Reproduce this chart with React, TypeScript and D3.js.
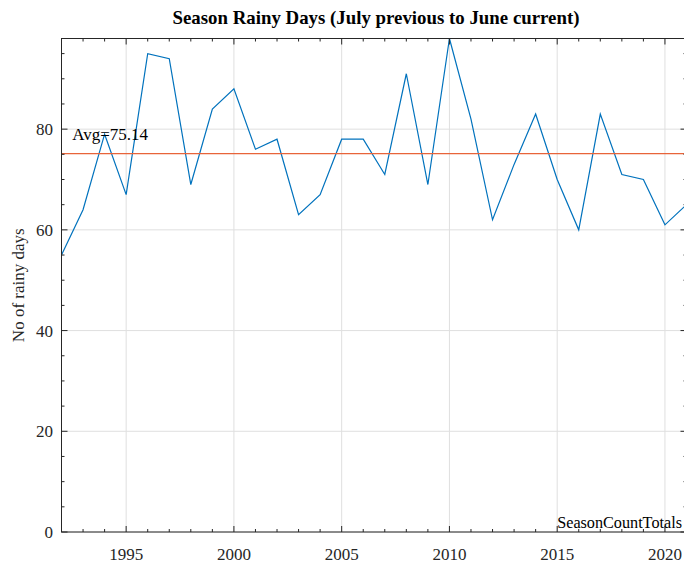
import React from "react";
import * as d3 from "d3";

const years = [1992,1993,1994,1995,1996,1997,1998,1999,2000,2001,2002,2003,2004,2005,2006,2007,2008,2009,2010,2011,2012,2013,2014,2015,2016,2017,2018,2019,2020,2021];
const rainyDays = [55,64,79,67,95,94,69,84,88,76,78,63,67,78,78,71,91,69,98,82,62,73,83,70,60,83,71,70,61,65];
const xTicks = [1995,2000,2005,2010,2015,2020];
const yTicks = [0,20,40,60,80];
const avgValue = 75.14;

const W = 684, H = 565;
const m = { left: 61.5, right: 686.5, top: 38.5, bottom: 532 };
const font = "'Liberation Serif', 'Times New Roman', serif";

export default function App() {
  const x = d3.scaleLinear().domain([1992, 2021]).range([m.left, m.right]);
  const y = d3.scaleLinear().domain([0, 98]).range([m.bottom, m.top]);
  const line = d3.line<number>().x((_, i) => x(years[i])).y(d => y(d));
  const minorX = d3.range(1992, 2022, 1).filter(v => !xTicks.includes(v));
  const minorY = d3.range(0, 99, 5).filter(v => !yTicks.includes(v));
  const ax = "#262626";
  return (
    <svg width={W} height={H} style={{ position: "absolute", left: 0, top: 0, background: "#fff" }}>
      <text x={376} y={24} textAnchor="middle" fontFamily={font} fontWeight="bold" fontSize={19} fill="#000"
        textLength={407} lengthAdjust="spacingAndGlyphs">
        Season Rainy Days (July previous to June current)
      </text>
      {/* grid */}
      {xTicks.map(t => (
        <line key={"gx" + t} x1={x(t)} x2={x(t)} y1={m.top} y2={m.bottom} stroke="#dfdfdf" strokeWidth={1} />
      ))}
      {yTicks.map(t => (
        <line key={"gy" + t} x1={m.left} x2={m.right} y1={y(t)} y2={y(t)} stroke="#dfdfdf" strokeWidth={1} />
      ))}
      {/* data */}
      <path d={line(rainyDays) || ""} fill="none" stroke="#0072BD" strokeWidth={1.2} />
      <line x1={m.left} x2={m.right} y1={y(avgValue)} y2={y(avgValue)} stroke="#E8643A" strokeWidth={1.4} />
      <text x={x(1992.5)} y={y(77.9)} fontFamily={font} fontSize={17} fill="#000">{`Avg=${avgValue.toFixed(2)}`}</text>
      <text x={x(2015)} y={y(0.85)} fontFamily={font} fontSize={16.2} fill="#000">SeasonCountTotals</text>
      {/* box */}
      <rect x={m.left} y={m.top} width={m.right - m.left} height={m.bottom - m.top} fill="none" stroke={ax} strokeWidth={1} />
      {/* ticks */}
      {xTicks.map(t => (
        <g key={"tx" + t}>
          <line x1={x(t)} x2={x(t)} y1={m.bottom} y2={m.bottom - 6} stroke={ax} />
          <line x1={x(t)} x2={x(t)} y1={m.top} y2={m.top + 6} stroke={ax} />
          <text x={x(t)} y={560} textAnchor="middle" fontFamily={font} fontSize={17} fill="#262626">{t}</text>
        </g>
      ))}
      {minorX.map(t => (
        <g key={"mx" + t}>
          <line x1={x(t)} x2={x(t)} y1={m.bottom} y2={m.bottom - 3} stroke={ax} />
          <line x1={x(t)} x2={x(t)} y1={m.top} y2={m.top + 3} stroke={ax} />
        </g>
      ))}
      {yTicks.map(t => (
        <g key={"ty" + t}>
          <line x1={m.left} x2={m.left + 6} y1={y(t)} y2={y(t)} stroke={ax} />
          <line x1={m.right} x2={m.right - 6} y1={y(t)} y2={y(t)} stroke={ax} />
          <text x={53} y={y(t) + 6} textAnchor="end" fontFamily={font} fontSize={17} fill="#262626">{t}</text>
        </g>
      ))}
      {minorY.map(t => (
        <g key={"my" + t}>
          <line x1={m.left} x2={m.left + 3} y1={y(t)} y2={y(t)} stroke={ax} />
          <line x1={m.right} x2={m.right - 3} y1={y(t)} y2={y(t)} stroke={ax} />
        </g>
      ))}
      <text transform={`translate(24, ${(m.top + m.bottom) / 2}) rotate(-90)`} textAnchor="middle" fontFamily={font} fontSize={17} fill="#262626">
        No of rainy days
      </text>
    </svg>
  );
}
